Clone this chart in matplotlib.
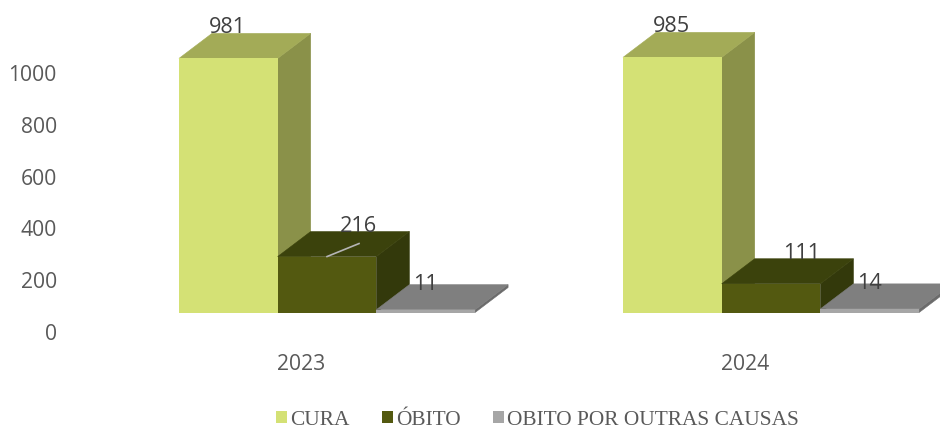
import matplotlib
matplotlib.use("Agg")
import matplotlib.pyplot as plt
from matplotlib.patches import Polygon, Patch

years = ["2023", "2024"]
series = ["CURA", "ÓBITO", "OBITO POR OUTRAS CAUSAS"]
cura = [981, 985]
obito = [216, 111]
outras = [11, 14]
values = [cura, obito, outras]

front_colors = ["#D4E175", "#535910", "#A6A6A6"]
top_colors = ["#A3AB57", "#3B420C", "#7F7F7F"]
side_colors = ["#8A9149", "#33390B", "#6B6B6B"]

# pixels per unit of the picture, used to turn the fake 3d depth into data units
px_x = 444.0
px_y = 0.259
bar_w = 98.7 / px_x
depth_x = 33 / px_x
depth_y = 25 / px_y
shift_x = 26 / px_x
floor = 19.5 / px_y

# label offsets in pixels, from the middle of the front top edge
label_dx = [-1, 31, 0]
label_dy = [31, 30, 25]

fig = plt.figure(figsize=(9.4, 4.25), dpi=100)
ax = fig.add_axes([79 / 940, (425 - 332) / 425, 861 / 940, 332 / 425])
ax.set_xlim(-0.5, 1.439)
ax.set_ylim(0, 332 / px_y)

# grey before dark, the dark side sits over the flat grey bar
for s in [0, 2, 1]:
    for i, v in enumerate(values[s]):
        x0 = i + shift_x + (s - 1.5) * bar_w
        x1 = x0 + bar_w
        y1 = floor + v
        z = 2 + s * 0.1
        ax.add_patch(Polygon([(x1, floor), (x1 + depth_x, floor + depth_y),
                              (x1 + depth_x, y1 + depth_y), (x1, y1)],
                             facecolor=side_colors[s], edgecolor=side_colors[s], lw=0.4, zorder=z, clip_on=False))
        ax.add_patch(Polygon([(x0, y1), (x1, y1), (x1 + depth_x, y1 + depth_y), (x0 + depth_x, y1 + depth_y)],
                             facecolor=top_colors[s], edgecolor=top_colors[s], lw=0.4, zorder=z, clip_on=False))
        ax.bar(x0, v, bar_w, bottom=floor, align="edge", color=front_colors[s], zorder=z + 0.01,
               edgecolor="none")
        ax.annotate(str(v), (x0 + bar_w / 2, y1), xytext=(label_dx[s], label_dy[s]), textcoords="offset pixels",
                    ha="center", va="center", fontsize=15.6, color="#404040", family="Open Sans", zorder=5,
                    annotation_clip=False)

# leader line of the 216 label
x_l = shift_x
ax.plot([x_l, x_l + 32 / px_x], [floor + obito[0], floor + obito[0] + 13 / px_y],
        color="#B5B5B5", lw=1.2, zorder=4)

for side in ax.spines.values():
    side.set_visible(False)
ax.set_xticks([0, 1])
ax.set_xticklabels(years)
ax.set_yticks(range(0, 1001, 200))
ax.tick_params(length=0, labelsize=15.2, labelcolor="#595959", labelfontfamily="Open Sans")
ax.tick_params(axis="y", pad=16)
ax.tick_params(axis="x", pad=16)
ax.patch.set_visible(False)

handles = [Patch(facecolor=c, edgecolor="none") for c in front_colors]
fig.legend(handles, series, loc="lower left", bbox_to_anchor=(257 / 940, -0.056), ncol=3, frameon=False,
           prop={"family": "Liberation Serif", "size": 15.4}, labelcolor="#595959",
           handlelength=0.52, handleheight=0.52, handletextpad=0.15, columnspacing=1.5)

fig.savefig("out.png", dpi=100)
